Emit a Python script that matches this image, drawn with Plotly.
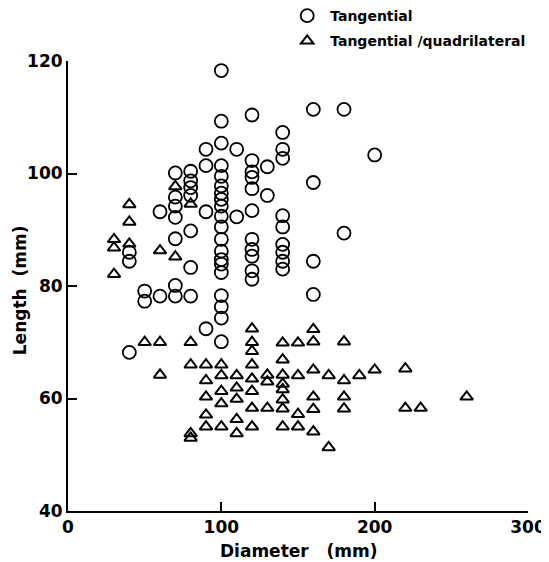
import plotly.graph_objects as go

# Tangential (circles): diameter (mm), length (mm)
tan_x = [40, 40, 40,
         50, 50,
         60, 60,
         70, 70, 70, 70, 70, 70, 70,
         80, 80, 80, 80, 80, 80, 80,
         90, 90, 90, 90,
         100, 100, 100, 100, 100, 100, 100, 100, 100, 100,
         100, 100, 100, 100, 100, 100, 100, 100, 100, 100,
         110, 110,
         120, 120, 120, 120, 120, 120, 120, 120, 120, 120, 120,
         130, 130,
         140, 140, 140, 140, 140, 140, 140, 140, 140,
         160, 160, 160, 160,
         180, 180,
         200]
tan_y = [86.0, 84.4, 68.2,
         79.1, 77.3,
         93.2, 78.2,
         100.1, 95.8, 94.2, 92.2, 88.4, 80.1, 78.2,
         100.4, 98.7, 97.5, 96.1, 89.8, 83.3, 78.2,
         104.3, 101.4, 93.2, 72.4,
         118.3, 109.3, 105.4, 101.4, 99.5, 97.8, 96.5, 95.4, 94.2, 92.4,
         90.5, 88.3, 86.2, 84.7, 83.9, 82.4, 78.3, 76.3, 74.3, 70.1,
         104.3, 92.3,
         110.4, 102.3, 100.3, 99.3, 97.3, 93.4, 88.3, 86.5, 85.3, 82.7, 81.2,
         101.2, 96.1,
         107.3, 104.3, 102.7, 92.5, 90.5, 87.4, 86.0, 84.4, 83.0,
         111.4, 98.4, 84.4, 78.5,
         111.4, 89.4,
         103.3]

# Tangential/quadrilateral (triangles)
quad_x = [30, 30, 30,
          40, 40, 40,
          50,
          60, 60, 60,
          70, 70,
          80, 80, 80, 80, 80,
          90, 90, 90, 90, 90,
          100, 100, 100, 100, 100,
          110, 110, 110, 110, 110,
          120, 120, 120, 120, 120, 120, 120, 120,
          130, 130, 130,
          140, 140, 140, 140, 140, 140, 140, 140,
          150, 150, 150, 150,
          160, 160, 160, 160, 160, 160,
          170, 170,
          180, 180, 180, 180,
          190,
          200,
          220, 220,
          230,
          260]
quad_y = [88.3, 86.8, 82.1,
          94.5, 91.4, 87.5,
          70.0,
          86.3, 70.0, 64.2,
          97.7, 85.2,
          94.6, 70.0, 66.0, 53.8, 53.0,
          66.0, 63.2, 60.3, 57.1, 55.0,
          66.0, 64.1, 61.3, 59.1, 55.0,
          64.1, 61.9, 59.9, 56.3, 53.8,
          72.4, 70.0, 68.4, 66.0, 63.5, 61.3, 58.3, 55.0,
          64.2, 63.0, 58.3,
          69.9, 66.9, 64.2, 62.6, 61.6, 59.8, 58.2, 55.0,
          69.9, 64.1, 57.2, 55.0,
          72.3, 70.1, 65.1, 60.3, 58.1, 54.1,
          64.1, 51.3,
          70.1, 63.2, 60.3, 58.2,
          64.1,
          65.1,
          65.3, 58.3,
          58.3,
          60.3]

x_ticks = [0, 100, 200, 300]
y_ticks = [40, 60, 80, 100, 120]
x_title = "Diameter&nbsp;&nbsp;&nbsp;(mm)"
y_title = "Length&nbsp;&nbsp;(mm)"

FONT = "DejaVu Sans"

fig = go.Figure()
fig.add_trace(go.Scatter(
    x=tan_x, y=tan_y, mode="markers", name="Tangential",
    legendgroup="a",
    marker=dict(symbol="circle-open", size=13, color="black",
                line=dict(width=1.8, color="black")),
))
fig.add_trace(go.Scatter(
    x=quad_x, y=quad_y, mode="markers", name="Tangential /quadrilateral",
    legendgroup="b",
    marker=dict(symbol="triangle-up-open", size=11, color="black",
                line=dict(width=2, color="black")),
))

axis_common = dict(
    showgrid=False, zeroline=False, showline=True, linecolor="black",
    linewidth=2, ticks="inside", ticklen=9, tickwidth=2, tickcolor="black",
    mirror=False, automargin=False,
    tickfont=dict(family=FONT, size=17, color="black", weight="bold"),
)

# page body adds an 8px offset; figure sized so the plot lands where the reference has it
fig.update_layout(
    width=541, height=554,
    margin=dict(l=60, r=21, t=53, b=51, autoexpand=False),
    paper_bgcolor="white", plot_bgcolor="white",
    xaxis=dict(range=[0, 300], tickvals=x_ticks, ticktext=[str(v) for v in x_ticks],
               **axis_common),
    yaxis=dict(range=[40, 120], tickvals=y_ticks, ticktext=[str(v) for v in y_ticks],
               **axis_common),
    legend=dict(x=0.470, y=1.1355, xanchor="left", yanchor="top",
                traceorder="grouped", tracegroupgap=4, itemwidth=36,
                font=dict(family=FONT, size=14, color="black", weight="bold"),
                bgcolor="rgba(0,0,0,0)"),
    showlegend=True,
    annotations=[
        dict(text=x_title, xref="paper", yref="paper", x=0.5, y=-0.089,
             xanchor="center", yanchor="middle", showarrow=False,
             font=dict(family=FONT, size=17, color="black", weight="bold")),
        dict(text=y_title, xref="paper", yref="paper", x=-0.104, y=0.491,
             xanchor="center", yanchor="middle", showarrow=False, textangle=-90,
             font=dict(family=FONT, size=17, color="black", weight="bold")),
    ],
)

fig.write_html("out.html")
